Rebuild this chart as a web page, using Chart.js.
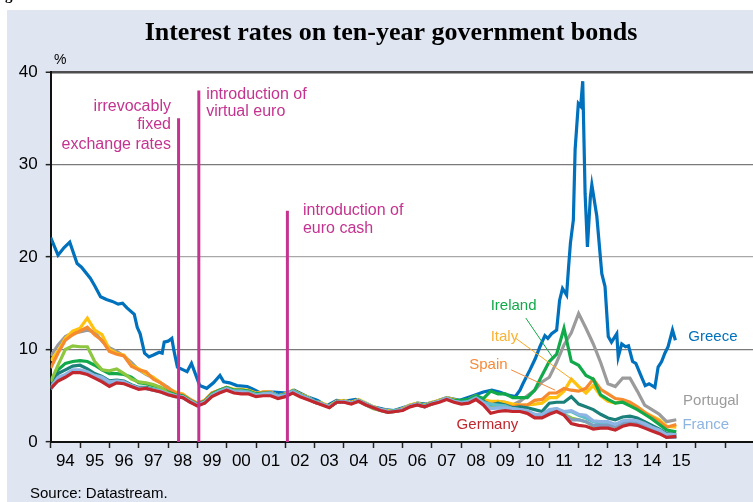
<!DOCTYPE html>
<html>
<head>
<meta charset="utf-8">
<script src="https://cdn.jsdelivr.net/npm/chart.js@4.4.1/dist/chart.umd.min.js"></script>
<style>
  html, body { margin: 0; padding: 0; background: #fff; }
  canvas { display: block; }
</style>
</head>
<body>
<canvas id="bondChart" width="753" height="502"></canvas>
<script>
// quarterly observation dates (decimal years)
var dates = [
  1994, 1994.25, 1994.5, 1994.75, 1995, 1995.25, 1995.5, 1995.75,
  1996, 1996.25, 1996.5, 1996.75, 1997, 1997.25, 1997.5, 1997.75,
  1998, 1998.25, 1998.5, 1998.75, 1999, 1999.25, 1999.5, 1999.75,
  2000, 2000.25, 2000.5, 2000.75, 2001, 2001.25, 2001.5, 2001.75,
  2002, 2002.25, 2002.5, 2002.75, 2003, 2003.25, 2003.5, 2003.75,
  2004, 2004.25, 2004.5, 2004.75, 2005, 2005.25, 2005.5, 2005.75,
  2006, 2006.25, 2006.5, 2006.75, 2007, 2007.25, 2007.5, 2007.75,
  2008, 2008.25, 2008.5, 2008.75, 2009, 2009.25, 2009.5, 2009.75,
  2010, 2010.25, 2010.5, 2010.75, 2011, 2011.25, 2011.5, 2011.75,
  2012, 2012.25, 2012.5, 2012.75, 2013, 2013.25, 2013.5, 2013.75,
  2014, 2014.25, 2014.5, 2014.75, 2015, 2015.33
];

var germany = [
  5.8, 6.6, 7.0, 7.5, 7.5, 7.3, 6.9, 6.5,
  6.0, 6.4, 6.3, 6.0, 5.7, 5.8, 5.6, 5.4,
  5.1, 4.9, 4.8, 4.3, 3.9, 4.2, 4.9, 5.3,
  5.6, 5.3, 5.2, 5.2, 4.9, 5.0, 5.0, 4.7,
  4.9, 5.3, 4.9, 4.6, 4.3, 4.0, 3.7, 4.3,
  4.3, 4.1, 4.4, 4.0, 3.7, 3.4, 3.2, 3.3,
  3.4, 3.8, 4.0, 3.8, 4.1, 4.3, 4.6, 4.3,
  4.1, 4.2, 4.6, 4.0, 3.1, 3.3, 3.4, 3.3,
  3.3, 3.1, 2.6, 2.6, 3.0, 3.3, 2.9, 2.0,
  1.8, 1.7, 1.4, 1.5, 1.5, 1.3, 1.7, 1.9,
  1.8, 1.5, 1.2, 0.9, 0.5, 0.6
];
var france = [
  5.9, 7.0, 7.3, 7.8, 7.8, 7.6, 7.2, 7.0,
  6.5, 6.6, 6.5, 6.1, 5.8, 5.8, 5.6, 5.5,
  5.2, 5.0, 4.9, 4.4, 4.0, 4.3, 5.0, 5.4,
  5.7, 5.4, 5.4, 5.3, 5.0, 5.2, 5.2, 4.9,
  5.0, 5.4, 5.0, 4.7, 4.3, 4.1, 3.8, 4.3,
  4.4, 4.2, 4.5, 4.1, 3.7, 3.5, 3.3, 3.3,
  3.5, 3.9, 4.1, 3.8, 4.2, 4.4, 4.7, 4.4,
  4.2, 4.3, 4.7, 4.2, 3.6, 3.7, 3.7, 3.6,
  3.5, 3.4, 3.0, 3.0, 3.5, 3.6, 3.3, 3.4,
  3.0, 2.9, 2.3, 2.2, 2.2, 1.9, 2.3, 2.4,
  2.3, 2.0, 1.6, 1.3, 0.8, 0.8
];
var netherlands = [
  5.7, 6.8, 7.1, 7.7, 7.7, 7.4, 7.0, 6.7,
  6.2, 6.5, 6.4, 6.0, 5.8, 5.8, 5.6, 5.4,
  5.1, 4.9, 4.8, 4.3, 4.0, 4.2, 5.0, 5.4,
  5.7, 5.4, 5.4, 5.3, 5.0, 5.1, 5.2, 4.8,
  5.0, 5.4, 5.0, 4.7, 4.3, 4.1, 3.8, 4.3,
  4.3, 4.2, 4.4, 4.0, 3.7, 3.4, 3.2, 3.3,
  3.5, 3.9, 4.0, 3.8, 4.1, 4.4, 4.7, 4.4,
  4.2, 4.3, 4.6, 4.1, 3.6, 3.7, 3.7, 3.5,
  3.4, 3.2, 2.8, 2.8, 3.2, 3.4, 3.0, 2.4,
  2.4, 2.2, 1.8, 1.8, 1.8, 1.7, 2.0, 2.2,
  2.1, 1.7, 1.4, 1.0, 0.5, 0.5
];
var austria = [
  5.9, 6.9, 7.2, 7.6, 7.6, 7.4, 7.0, 6.8,
  6.3, 6.5, 6.4, 6.1, 5.8, 5.8, 5.7, 5.5,
  5.2, 5.0, 4.9, 4.4, 4.0, 4.3, 5.1, 5.5,
  5.8, 5.5, 5.5, 5.4, 5.1, 5.2, 5.3, 5.0,
  5.1, 5.5, 5.1, 4.8, 4.4, 4.1, 3.8, 4.3,
  4.4, 4.2, 4.5, 4.1, 3.7, 3.5, 3.3, 3.4,
  3.5, 3.9, 4.1, 3.9, 4.2, 4.4, 4.7, 4.4,
  4.3, 4.4, 4.8, 4.3, 4.1, 4.0, 3.9, 3.6,
  3.5, 3.3, 2.9, 2.9, 3.4, 3.6, 3.2, 3.3,
  2.9, 2.6, 2.2, 2.0, 2.0, 1.9, 2.1, 2.2,
  2.1, 1.8, 1.4, 1.1, 0.6, 0.5
];
var belgium = [
  6.2, 7.4, 7.8, 8.2, 8.3, 7.9, 7.4, 7.1,
  6.6, 6.7, 6.6, 6.2, 5.9, 5.9, 5.7, 5.5,
  5.2, 5.0, 4.9, 4.4, 4.0, 4.3, 5.1, 5.5,
  5.8, 5.5, 5.5, 5.4, 5.1, 5.2, 5.3, 5.0,
  5.1, 5.5, 5.1, 4.8, 4.4, 4.1, 3.8, 4.3,
  4.4, 4.2, 4.5, 4.1, 3.7, 3.5, 3.3, 3.4,
  3.5, 3.9, 4.1, 3.9, 4.2, 4.4, 4.7, 4.4,
  4.3, 4.4, 4.8, 4.4, 4.0, 4.2, 4.0, 3.7,
  3.8, 3.7, 3.5, 3.3, 4.2, 4.3, 4.3, 4.9,
  4.1, 3.8, 3.5, 3.0, 2.6, 2.4, 2.7, 2.8,
  2.6, 2.2, 1.8, 1.4, 0.9, 0.8
];
var finland = [
  6.5, 8.3, 10.0, 10.4, 10.3, 10.3, 8.7, 7.8,
  7.7, 7.9, 7.4, 6.8, 6.5, 6.4, 6.2, 5.9,
  5.3, 5.0, 4.9, 4.4, 4.0, 4.3, 5.1, 5.5,
  5.8, 5.5, 5.5, 5.4, 5.1, 5.2, 5.2, 4.9,
  5.0, 5.4, 5.0, 4.7, 4.3, 4.1, 3.8, 4.3,
  4.3, 4.2, 4.4, 4.0, 3.6, 3.4, 3.2, 3.3,
  3.5, 3.9, 4.0, 3.8, 4.1, 4.4, 4.7, 4.4,
  4.2, 4.3, 4.7, 4.2, 3.7, 3.8, 3.8, 3.6,
  3.4, 3.2, 2.7, 2.7, 3.3, 3.5, 3.0, 2.6,
  2.4, 2.2, 1.7, 1.7, 1.8, 1.7, 2.0, 2.3,
  2.1, 1.7, 1.3, 1.0, 0.6, 0.5
];
var ireland = [
  6.7, 7.8, 8.5, 8.7, 8.8, 8.7, 8.3, 7.8,
  7.4, 7.4, 7.3, 7.0, 6.4, 6.3, 6.1, 5.9,
  5.4, 5.1, 5.0, 4.5, 4.1, 4.4, 5.2, 5.6,
  5.9, 5.6, 5.6, 5.5, 5.2, 5.3, 5.3, 5.0,
  5.1, 5.5, 5.1, 4.8, 4.3, 4.1, 3.8, 4.3,
  4.4, 4.2, 4.5, 4.1, 3.7, 3.4, 3.3, 3.3,
  3.5, 3.9, 4.1, 3.9, 4.2, 4.4, 4.7, 4.5,
  4.5, 4.6, 5.0, 4.7, 5.5, 5.2, 5.2, 4.8,
  4.8, 4.8, 5.6, 7.2, 8.7, 9.5, 12.3, 8.7,
  8.3, 7.2, 6.8, 5.1, 4.6, 4.2, 4.3, 3.9,
  3.5, 3.0, 2.5, 1.9, 1.3, 1.1
];
var spain = [
  8.0, 9.6, 11.0, 11.6, 12.0, 12.4, 11.6, 11.0,
  9.8, 9.5, 9.3, 8.2, 7.8, 7.6, 6.8, 6.4,
  5.8, 5.3, 5.1, 4.6, 4.2, 4.5, 5.3, 5.6,
  5.9, 5.6, 5.6, 5.5, 5.2, 5.4, 5.4, 5.0,
  5.1, 5.5, 5.1, 4.8, 4.3, 4.1, 3.8, 4.3,
  4.4, 4.2, 4.5, 4.1, 3.7, 3.5, 3.3, 3.3,
  3.5, 3.9, 4.1, 3.9, 4.2, 4.4, 4.7, 4.5,
  4.3, 4.5, 4.9, 4.4, 4.1, 4.1, 4.0, 3.8,
  4.0, 4.0, 4.5, 4.6, 5.3, 5.3, 5.8, 5.6,
  5.5, 5.8, 6.8, 5.7, 5.2, 4.7, 4.6, 4.3,
  3.8, 3.2, 2.7, 2.2, 1.6, 1.9
];
var italy = [
  8.8, 9.8, 11.2, 12.0, 12.3, 13.4, 12.1, 11.6,
  10.0, 9.6, 9.4, 8.3, 7.9, 7.4, 7.0, 6.4,
  5.8, 5.4, 5.2, 4.6, 4.2, 4.5, 5.3, 5.6,
  5.9, 5.7, 5.7, 5.6, 5.3, 5.4, 5.4, 5.0,
  5.2, 5.6, 5.2, 4.9, 4.4, 4.2, 3.9, 4.4,
  4.5, 4.3, 4.6, 4.2, 3.8, 3.5, 3.4, 3.4,
  3.6, 4.0, 4.2, 4.0, 4.3, 4.5, 4.8, 4.6,
  4.4, 4.6, 5.0, 4.6, 4.4, 4.4, 4.3, 4.1,
  4.0, 4.0, 4.1, 4.2, 4.8, 4.8, 5.5, 6.8,
  6.0, 5.3, 6.1, 5.0, 4.4, 4.2, 4.4, 4.2,
  3.8, 3.2, 2.8, 2.4, 1.7, 1.6
];
var portugal = [
  9.3, 10.5, 11.4, 11.8, 11.9, 12.1, 11.9, 10.9,
  10.2, 9.8, 9.3, 8.6, 7.8, 7.3, 6.9, 6.4,
  5.9, 5.3, 5.1, 4.6, 4.1, 4.4, 5.2, 5.6,
  5.9, 5.6, 5.6, 5.5, 5.2, 5.4, 5.4, 5.0,
  5.1, 5.5, 5.1, 4.8, 4.3, 4.1, 3.8, 4.3,
  4.4, 4.2, 4.5, 4.1, 3.7, 3.5, 3.3, 3.4,
  3.6, 4.0, 4.1, 3.9, 4.2, 4.4, 4.7, 4.5,
  4.4, 4.5, 4.9, 4.5, 4.3, 4.4, 4.3, 4.0,
  4.4, 5.0, 5.6, 6.5, 7.0, 8.6, 10.5, 11.8,
  13.9, 12.3, 10.6, 8.6, 6.3, 6.0, 6.9, 6.9,
  5.5, 4.0, 3.5, 3.0, 2.2, 2.4
];

// Greece has its own, denser date list around the 2011-2012 spike
var greeceDates = [
  1994.0, 1994.25, 1994.45, 1994.65, 1994.9, 1995.05, 1995.35, 1995.5, 1995.7, 1995.9,
  1996.1, 1996.3, 1996.45, 1996.6, 1996.85, 1996.95, 1997.05, 1997.2, 1997.35, 1997.5,
  1997.7, 1997.8, 1997.87, 1998.0, 1998.13, 1998.2, 1998.32, 1998.52, 1998.65, 1998.8,
  1999.08, 1999.32, 1999.55, 1999.77, 1999.9, 2000.1, 2000.35, 2000.7, 2000.9, 2001.15,
  2001.6, 2002.05, 2002.3, 2002.75, 2003.1, 2003.4, 2003.75, 2004.0, 2004.4, 2004.75,
  2005.0, 2005.4, 2005.7, 2006.0, 2006.5, 2006.8, 2007.15, 2007.5, 2007.95, 2008.4,
  2008.75, 2009.04, 2009.3, 2009.55, 2009.84, 2010.0, 2010.1, 2010.34, 2010.52, 2010.68,
  2010.85, 2010.95, 2011.08, 2011.25, 2011.35, 2011.45, 2011.59, 2011.65, 2011.72, 2011.82,
  2011.88, 2011.99, 2012.07, 2012.14, 2012.22, 2012.3, 2012.4, 2012.45, 2012.62, 2012.79,
  2012.9, 2013.01, 2013.12, 2013.3, 2013.35, 2013.47, 2013.6, 2013.7, 2013.84, 2013.95,
  2014.16, 2014.27, 2014.4, 2014.6, 2014.71, 2014.83, 2014.94, 2015.05, 2015.2, 2015.3
];
var greece = [
  22.1, 20.2, 21.0, 21.6, 19.3, 18.9, 17.7, 16.9, 15.7, 15.4,
  15.2, 14.9, 15.0, 14.5, 13.8, 12.4, 11.7, 9.6, 9.2, 9.4,
  9.7, 9.6, 10.8, 10.9, 11.2, 9.9, 8.1, 7.8, 7.6, 8.5,
  6.1, 5.8, 6.4, 7.2, 6.5, 6.4, 6.1, 6.0, 5.7, 5.3,
  5.4, 5.3, 5.6, 4.9, 4.5, 3.9, 4.5, 4.4, 4.6, 4.2,
  3.8, 3.5, 3.4, 3.7, 4.2, 4.1, 4.4, 4.8, 4.5, 5.0,
  5.4, 5.6, 5.4, 5.1, 4.9, 5.6, 6.3, 7.8, 9.0, 10.3,
  11.5, 11.2, 11.7, 12.1, 15.3, 16.6, 15.9, 18.6, 21.5, 24.0,
  31.6, 36.6, 36.3, 39.0, 26.9, 21.1, 26.5, 27.8, 24.4, 18.2,
  16.8, 11.4, 10.8, 11.7, 9.2, 10.6, 10.3, 10.4, 8.7, 8.5,
  6.9, 6.1, 6.3, 5.9, 8.1, 8.7, 9.6, 10.3, 12.1, 11.0
];

// event markers: date and height of the vertical line
var eventDates = [1998.36, 1999.05, 2002.07];
var eventTops = [35, 38, 25];

// leader lines from the country names to their curves
var irelandLeader = { x: [2010.2, 2011.1], y: [13.4, 9.2] };
var italyLeader = { x: [2009.86, 2011.8], y: [11.2, 6.7] };
var spainLeader = { x: [2009.7, 2011.2], y: [7.8, 5.6] };

var yearLabels = ['94', '95', '96', '97', '98', '99', '00', '01', '02', '03', '04',
                  '05', '06', '07', '08', '09', '10', '11', '12', '13', '14', '15'];

var magenta = '#c4338f';

function pts(xs, ys) {
    return xs.map(function(x, i) { return { x: x, y: ys[i] }; });
}

function line(label, xs, ys, color, width) {
    return {
        label: label,
        data: pts(xs, ys),
        borderColor: color,
        borderWidth: width,
        pointRadius: 0,
        fill: false,
        tension: 0
    };
}

var datasets = [];
eventDates.forEach(function(d, i) {
    datasets.push(line('event' + i, [d, d], [0, eventTops[i]], magenta, 3));
});
datasets.push(line('irelandLeader', irelandLeader.x, irelandLeader.y, '#12a94a', 1));
datasets.push(line('italyLeader', italyLeader.x, italyLeader.y, '#f7a823', 1));
datasets.push(line('spainLeader', spainLeader.x, spainLeader.y, '#f58a3a', 1));

datasets.push(line('Germany', dates, germany, '#c1272d', 3.2));
datasets.push(line('France', dates, france, '#8eb4e3', 3.2));
datasets.push(line('Netherlands', dates, netherlands, '#7d9cc0', 3.2));
datasets.push(line('Austria', dates, austria, '#5cbfc9', 3.2));
datasets.push(line('Finland', dates, finland, '#8dc63f', 3.2));
datasets.push(line('Belgium', dates, belgium, '#1a8079', 3.2));
datasets.push(line('Ireland', dates, ireland, '#12a94a', 3.2));
datasets.push(line('Spain', dates, spain, '#f58a2e', 3.2));
datasets.push(line('Italy', dates, italy, '#ffc20f', 3.2));
datasets.push(line('Portugal', dates, portugal, '#9b9b9b', 3.2));
datasets.push(line('Greece', greeceDates, greece, '#0071bc', 3.2));

var sans = '"Liberation Sans", Arial, sans-serif';
Chart.defaults.font.family = sans;

var backdrop = {
    id: 'backdrop',
    beforeDraw: function(chart) {
        var c = chart.ctx, a = chart.chartArea;
        c.save();
        c.fillStyle = '#dfe6f2';
        c.fillRect(7, 10, chart.width - 7, chart.height - 10);
        c.fillStyle = '#ffffff';
        c.fillRect(a.left, a.top, a.right - a.left, a.bottom - a.top);
        c.restore();
    }
};

var notes = {
    id: 'notes',
    afterDraw: function(chart) {
        var c = chart.ctx, xs = chart.scales.x, ys = chart.scales.y;
        function txt(s, x, y, color, align) {
            c.fillStyle = color;
            c.textAlign = align || 'left';
            c.fillText(s, xs.getPixelForValue(x), ys.getPixelForValue(y));
        }
        c.save();
        c.textBaseline = 'middle';

        c.fillStyle = '#000';
        c.textAlign = 'center';
        c.font = 'bold 26px "Liberation Serif", "Times New Roman", serif';
        c.fillText('Interest rates on ten-year government bonds', 391, 33);

        c.font = 'bold 15px "Liberation Serif", serif';
        c.textAlign = 'left';
        c.fillText('g', 5, -4);

        c.font = '14px ' + sans;
        c.fillText('%', 54, 60);
        c.font = '15px ' + sans;
        c.fillText('Source: Datastream.', 30, 494);

        c.font = '16px ' + sans;
        txt('irrevocably', 1998.1, 36.3, magenta, 'right');
        txt('fixed', 1998.1, 34.3, magenta, 'right');
        txt('exchange rates', 1998.1, 32.2, magenta, 'right');
        txt('introduction of', 1999.3, 37.6, magenta);
        txt('virtual euro', 1999.3, 35.7, magenta);
        txt('introduction of', 2002.6, 25.0, magenta);
        txt('euro cash', 2002.6, 23.1, magenta);

        c.font = '15px ' + sans;
        txt('Greece', 2015.74, 11.4, '#0071bc');
        txt('Portugal', 2015.56, 4.4, '#9b9b9b');
        txt('France', 2015.54, 1.9, '#8eb4e3');
        txt('Germany', 2007.84, 1.9, '#c1272d');
        txt('Ireland', 2009.0, 14.7, '#12a94a');
        txt('Italy', 2009.0, 11.4, '#f9b234');
        txt('Spain', 2008.27, 8.3, '#f58a3a');
        c.restore();
    }
};

var ctx = document.getElementById('bondChart').getContext('2d');
var bondChart = new Chart(ctx, {
    type: 'line',
    data: { datasets: datasets },
    options: {
        responsive: false,
        animation: false,
        layout: { padding: { top: 72, right: 0, left: 0, bottom: 0 } },
        plugins: {
            legend: { display: false },
            tooltip: { enabled: false }
        },
        scales: {
            x: {
                type: 'linear',
                min: 1994,
                max: 2017.945,
                afterBuildTicks: function(scale) {
                    var t = [];
                    for (var yr = 1994; yr <= 2017; yr++) t.push({ value: yr });
                    yearLabels.forEach(function(l, i) { t.push({ value: 1994.5 + i }); });
                    t.sort(function(a, b) { return a.value - b.value; });
                    scale.ticks = t;
                },
                afterFit: function(scale) { scale.height = 60; },
                ticks: {
                    autoSkip: false,
                    maxRotation: 0,
                    padding: 3,
                    color: '#000',
                    font: { family: '"Liberation Sans Narrow", "Arial Narrow", ' + sans, size: 17 },
                    callback: function(v) {
                        if (Number.isInteger(v)) return '';
                        return yearLabels[Math.round(v - 1994.5)];
                    }
                },
                grid: {
                    drawOnChartArea: false,
                    tickLength: 6,
                    tickWidth: 1.5,
                    tickColor: function(c) {
                        return Number.isInteger(c.tick.value) ? '#222' : 'rgba(0,0,0,0)';
                    }
                },
                border: { color: '#111', width: 2 }
            },
            y: {
                min: 0,
                max: 40,
                afterFit: function(scale) { scale.width = 50.7; },
                ticks: {
                    stepSize: 10,
                    padding: 8,
                    color: '#000',
                    font: { size: 17 }
                },
                grid: {
                    color: function(c) {
                        var v = c.tick.value;
                        if (v === 40) return '#4d4d4d';
                        if (v === 20) return '#a8a8a8';
                        if (v === 0) return 'rgba(0,0,0,0)';
                        return '#7a7a7a';
                    },
                    lineWidth: function(c) { return c.tick.value === 40 ? 2.5 : 1.3; },
                    tickLength: 5,
                    tickWidth: 1.5,
                    tickColor: '#222'
                },
                border: { color: '#111', width: 2 }
            }
        }
    },
    plugins: [backdrop, notes]
});
</script>
</body>
</html>
